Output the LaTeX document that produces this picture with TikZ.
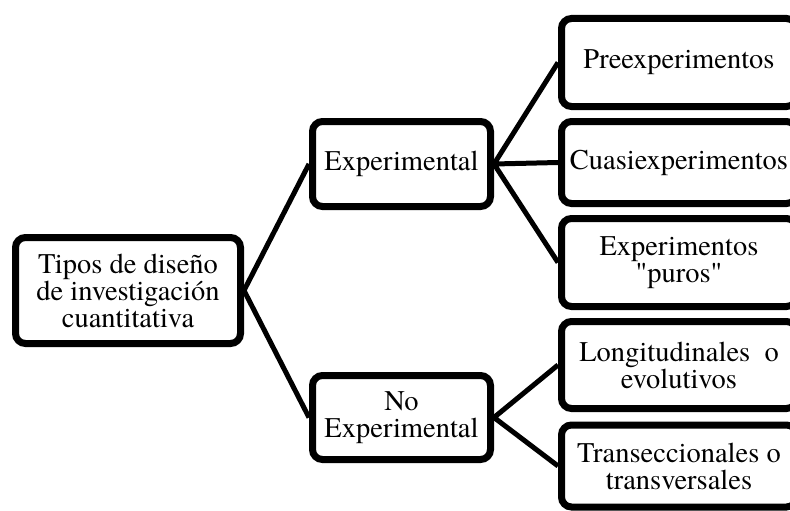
\documentclass[tikz,border=0pt]{standalone}
\usepackage{fontspec}
\setmainfont{TeX Gyre Termes}
\usetikzlibrary{shadows}
\begin{document}
\begin{tikzpicture}[x=1pt,y=-1pt,
  caja/.style={draw,line width=7pt,rounded corners=10pt,fill=white,align=center,inner sep=0pt,
    font=\fontsize{28.5}{27}\selectfont,
    drop shadow={shadow xshift=0pt,shadow yshift=-3pt,opacity=0.25,fill=black}},
  rama/.style={line width=5pt}]
\useasboundingbox (0,0) rectangle (790,511);
\clip (0,0) rectangle (790,511);
% raiz
\node[caja,minimum width=225pt,minimum height=106pt] (tipos) at (128,290.5) {Tipos de diseño\\de investigación\\cuantitativa};
% segundo nivel
\node[caja,minimum width=178pt,minimum height=85pt] (exp) at (401.5,164) {Experimental};
\node[caja,minimum width=178pt,minimum height=84pt] (noexp) at (401.5,417.5) {No\\Experimental};
% tercer nivel
\node[caja,minimum width=235pt,minimum height=88pt] (pre) at (679,62.5) {Preexperimentos};
\node[caja,minimum width=235pt,minimum height=82pt] (cuasi) at (679,162.5) {Cuasiexperimentos};
\node[caja,minimum width=235pt,minimum height=88pt] (puros) at (679,262.5) {Experimentos\\\textquotedbl puros\textquotedbl};
\node[caja,minimum width=235pt,minimum height=87pt] (longi) at (679,365) {Longitudinales\ \ o\\evolutivos};
\node[caja,minimum width=235pt,minimum height=82pt] (trans) at (679,466) {Transeccionales o\\transversales};
\draw[rama] (tipos.east) -- (exp.west) (tipos.east) -- (noexp.west);
\draw[rama] (exp.east) -- (pre.west) (exp.east) -- (cuasi.west) (exp.east) -- (puros.west);
\draw[rama] (noexp.east) -- (longi.west) (noexp.east) -- (trans.west);
\end{tikzpicture}
\end{document}
